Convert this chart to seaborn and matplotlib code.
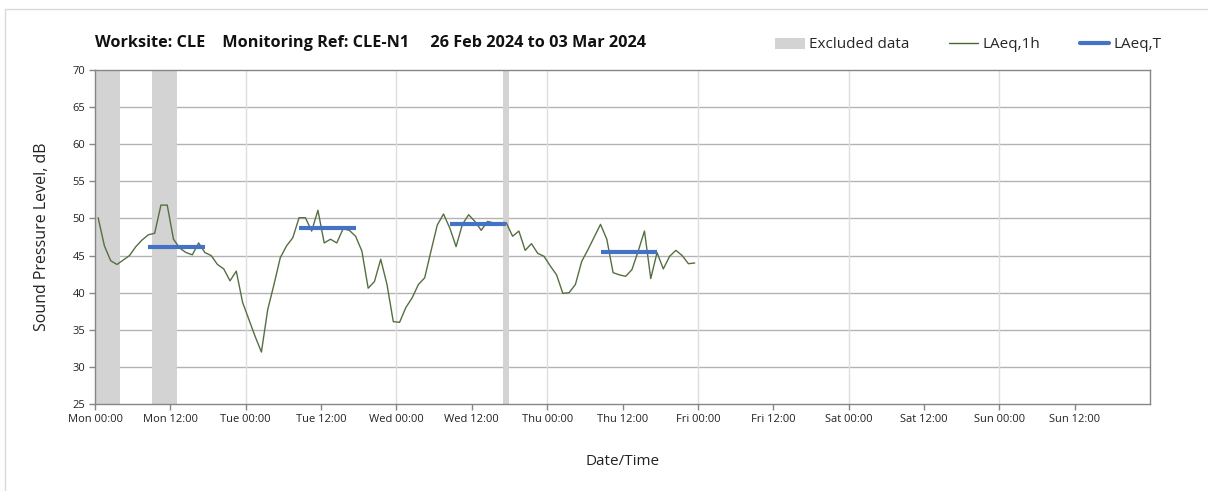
import numpy as np
import pandas as pd
import matplotlib
matplotlib.use("Agg")
import matplotlib.pyplot as plt
from matplotlib.patches import Patch, Rectangle
from matplotlib.lines import Line2D
import seaborn as sns

# ---------------- data ----------------
# hourly LAeq,1h values starting Mon 00:00
laeq_1h = [50.1, 46.3, 44.3, 43.8, 44.4, 45.0, 46.2, 47.1, 47.8, 48.0,
           51.8, 51.8, 47.2, 46.0, 45.4, 45.1, 46.7, 45.4, 45.0, 43.8,
           43.2, 41.6, 42.9, 38.7, 36.4, 34.1, 32.0, 37.7, 41.1, 44.7,
           46.3, 47.4, 50.1, 50.1, 48.3, 51.1, 46.7, 47.2, 46.7, 48.6,
           48.4, 47.6, 45.6, 40.6, 41.5, 44.5, 41.1, 36.1, 36.0, 38.0,
           39.3, 41.1, 42.0, 45.6, 49.1, 50.6, 48.7, 46.2, 49.2, 50.5,
           49.6, 48.4, 49.6, 49.4, 49.2, 49.4, 47.6, 48.3, 45.7, 46.6,
           45.3, 44.9, 43.6, 42.4, 39.9, 40.0, 41.1, 44.2, 45.8, 47.5,
           49.2, 47.2, 42.7, 42.4, 42.2, 43.1, 45.6, 48.3, 41.9, 45.4,
           43.2, 44.9, 45.7, 45.0, 43.9, 44.0]

# LAeq,T daytime periods (start hour, end hour) and values
laeq_t_start = [8, 32, 56, 80]
laeq_t_end = [18, 42, 66, 90]
laeq_t_value = [46.2, 48.7, 49.2, 45.5]

# excluded data periods (hours)
excl_start = [0, 9, 65]
excl_end = [4, 13, 66]

tick_labels = ["Mon 00:00", "Mon 12:00", "Tue 00:00", "Tue 12:00", "Wed 00:00",
               "Wed 12:00", "Thu 00:00", "Thu 12:00", "Fri 00:00", "Fri 12:00",
               "Sat 00:00", "Sat 12:00", "Sun 00:00", "Sun 12:00"]

title = "Worksite: CLE    Monitoring Ref: CLE-N1     26 Feb 2024 to 03 Mar 2024"

# ---------------- style ----------------
sns.set_theme(style="white")
plt.rcParams['font.family'] = ['Open Sans', 'DejaVu Sans']

W, H = 1208, 491
fig = plt.figure(figsize=(W / 100, H / 100), dpi=100)
ax = fig.add_axes([95 / W, 1 - 404 / H, (1150 - 95) / W, (404 - 70) / H])

line_color = "#566f41"
blue = "#4472C4"
grey_fill = "#d3d3d3"

# excluded spans
for s, e in zip(excl_start, excl_end):
    ax.axvspan(s, e, color=grey_fill, lw=0, zorder=1)

# hourly line
df = pd.DataFrame({"hour": np.arange(len(laeq_1h)) + 0.5, "LAeq,1h": laeq_1h})
sns.lineplot(data=df, x="hour", y="LAeq,1h", ax=ax, color=line_color, lw=1.0, zorder=3)

# LAeq,T segments
seg_rows = []
for i, (s, e, v) in enumerate(zip(laeq_t_start, laeq_t_end, laeq_t_value)):
    seg_rows.append({"seg": i, "hour": s + 0.5, "val": v})
    seg_rows.append({"seg": i, "hour": e - 0.5, "val": v})
seg_df = pd.DataFrame(seg_rows)
for i, g in seg_df.groupby("seg"):
    sns.lineplot(data=g, x="hour", y="val", ax=ax, color=blue, lw=3.0,
                 zorder=4, solid_capstyle="butt")

ax.set_xlim(0, 168)
ax.set_ylim(25, 70)
ax.set_yticks(np.arange(25, 71, 5))
ax.set_xticks(np.arange(0, 168, 12))
ax.set_xticklabels(tick_labels)

# grid
for y in np.arange(30, 70, 5):
    ax.axhline(y, color="#b3b3b3", lw=1.0, zorder=0)
for x in np.arange(24, 168, 24):
    ax.axvline(x, color="#dedede", lw=1.0, zorder=0)

for sp in ax.spines.values():
    sp.set_color("#868686")
    sp.set_linewidth(1.0)

ax.tick_params(axis="both", which="both", direction="out", length=4, width=1,
               color="#868686", labelsize=8, labelcolor="#222222", pad=3,
               bottom=True, left=True)

ax.set_xlabel("Date/Time", fontsize=11, color="#222222", labelpad=21)
ax.set_ylabel("Sound Pressure Level, dB", fontsize=11.5, color="#222222", labelpad=16)

fig.text(95 / W, 1 - 43 / H, title, fontsize=11.7, fontweight="bold",
         color="#111111", ha="left", va="center")

handles = [Patch(facecolor=grey_fill, edgecolor="none"),
           Line2D([], [], color="#4a6630", lw=1.0),
           Line2D([], [], color=blue, lw=3.0)]
fig.legend(handles, ["Excluded data", "LAeq,1h", "LAeq,T"], ncol=3,
           loc="center right", bbox_to_anchor=(1168 / W, 1 - 45 / H),
           frameon=False, fontsize=11, handlelength=1.9, handletextpad=0.3,
           columnspacing=2.6, borderaxespad=0)

# outer chart border (left/top)
fig.add_artist(Rectangle((5 / W, -0.05), 1.2, 1.05 - 9 / H, transform=fig.transFigure,
                         fill=False, edgecolor="#d9d9d9", lw=1.0))

fig.savefig("out.png", dpi=100)
